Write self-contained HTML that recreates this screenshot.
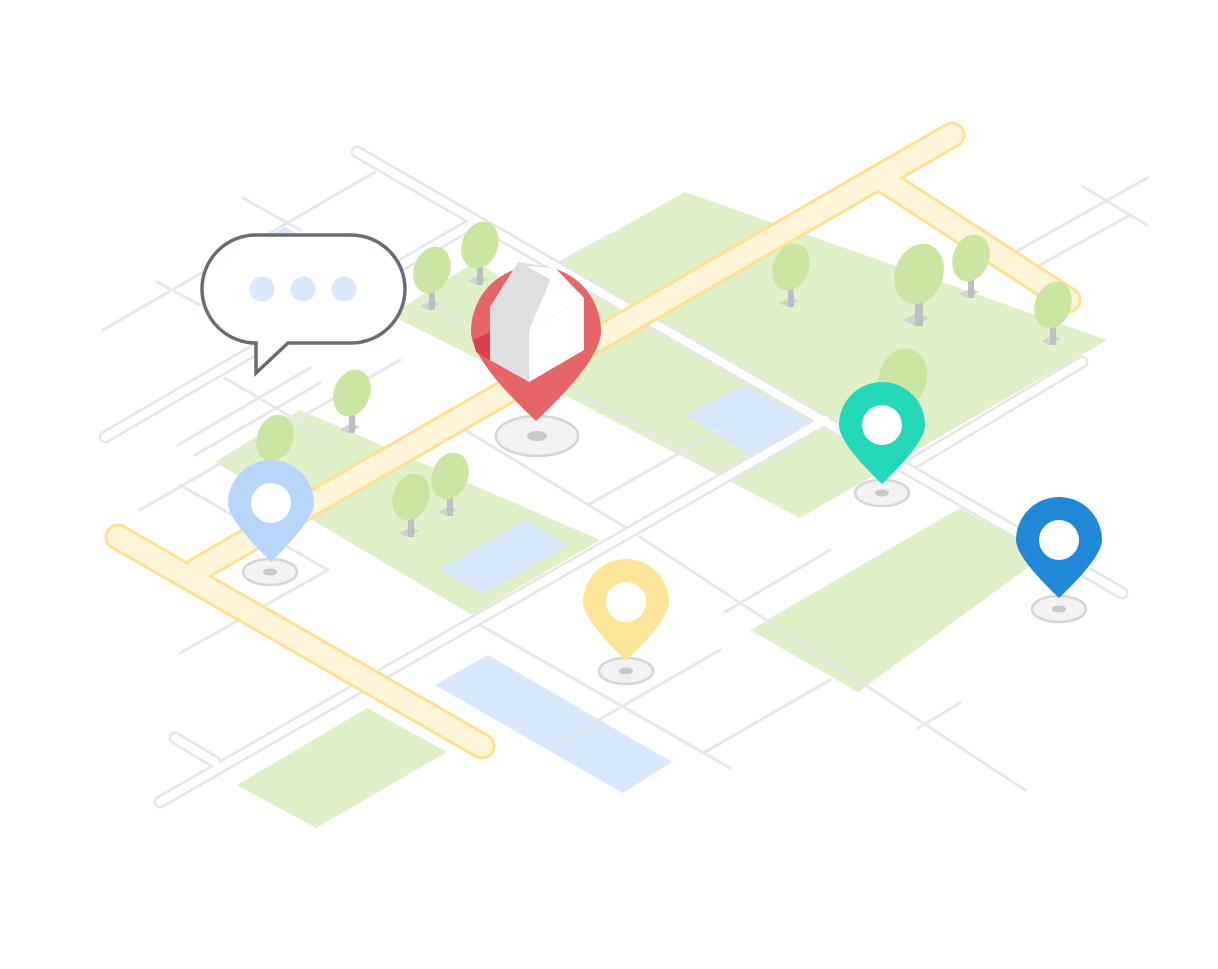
<!DOCTYPE html>
<html><head><meta charset="utf-8"><style>html,body{margin:0;padding:0;background:#fff}svg{display:block}</style></head>
<body>
<svg width="1218" height="969" viewBox="0 0 1218 969" xmlns="http://www.w3.org/2000/svg">
<rect width="1218" height="969" fill="#fff"/>
<!-- green parcels -->
<g fill="#e0f0c8">
<polygon points="560,262 685,192 1107,340 800,518 440,330"/>
<polygon points="215,462 300,410 600,540 472,615"/>
<polygon points="237,785 367,708 447,752 316,828"/>
<polygon points="750,630 960,508 1045,555 858,692"/>
<polygon points="390,315 475,262 560,310 480,360"/>
</g>
<!-- blue -->
<g fill="#d9e8fc">
<polygon points="440,570 525,520 568,545 483,594"/>
<polygon points="435,685 488,655 672,762 623,793"/>
<polygon points="685,415 745,385 812,423 750,455"/>
<polygon points="262,240 285,227 305,238 282,251"/>
</g>
<!-- single lines -->
<g stroke="#e8e8e8" stroke-width="3" fill="none" stroke-linecap="round">
<path d="M103,330 L375,172"/>
<path d="M243,198 L300,230"/>
<path d="M157,282 L200,305"/>
<path d="M1082,186 L1147,225 M1147,178 L1010,255 M1130,215 L1040,265"/>
<path d="M140,510 L400,360"/>
<path d="M180,485 L328,570 L180,653"/>
<path d="M178,445 L310,368 M195,455 L320,383"/>
<path d="M225,378 L330,440"/>
<path d="M465,430 L625,527 M588,505 L720,430"/>
<path d="M480,625 L730,768"/>
<path d="M640,537 L1025,790"/>
<path d="M705,752 L830,680 M918,728 L960,703"/>
<path d="M725,612 L830,550"/>
<path d="M555,745 L720,650"/>
<path d="M420,300 L740,485"/>
<path d="M560,262 L610,235"/>
</g>
<!-- double roads -->
<g fill="none" stroke-linecap="round" stroke-linejoin="round">
<g stroke="#e6e6e6" stroke-width="13">
<path d="M357,152 L1122,593"/>
<path d="M160,802 L825,420"/>
<path d="M1082,362 L915,462"/>
<path d="M105,437 L470,225"/>
<path d="M175,738 L215,762"/>
</g>
<g stroke="#fff" stroke-width="8">
<path d="M357,152 L1122,593"/>
<path d="M160,802 L825,420"/>
<path d="M1082,362 L915,462"/>
<path d="M105,437 L470,225"/>
<path d="M175,738 L215,762"/>
</g>
</g>
<!-- yellow road -->
<g fill="none" stroke-linecap="round" stroke-linejoin="round">
<g stroke="#fde293" stroke-width="27">
<path d="M118,537 L482,746"/>
<path d="M197,570 L952,135"/>
<path d="M880,178 L1068,300"/>
</g>
<g stroke="#fef4d7" stroke-width="21">
<path d="M118,537 L482,746"/>
<path d="M197,570 L952,135"/>
<path d="M880,178 L1068,300"/>
</g>
</g>
<!-- trees -->
<g>
<g transform="translate(432,270)"><polygon points="-12,36 0,30 8,34 -4,40" fill="#d0d4cf"/><rect x="-3" y="10" width="6" height="30" fill="#bdbfc2"/><ellipse rx="18" ry="24" transform="rotate(20)" fill="#cbe5a2"/></g>
<g transform="translate(480,245)"><polygon points="-12,36 0,30 8,34 -4,40" fill="#d0d4cf"/><rect x="-3" y="10" width="6" height="30" fill="#bdbfc2"/><ellipse rx="18" ry="24" transform="rotate(20)" fill="#cbe5a2"/></g>
<g transform="translate(352,393)"><polygon points="-12,36 0,30 8,34 -4,40" fill="#d0d4cf"/><rect x="-3" y="10" width="6" height="30" fill="#bdbfc2"/><ellipse rx="18" ry="24" transform="rotate(20)" fill="#cbe5a2"/></g>
<g transform="translate(275,438)"><ellipse rx="18" ry="24" transform="rotate(20)" fill="#cbe5a2"/></g>
<g transform="translate(411,497)"><polygon points="-12,36 0,30 8,34 -4,40" fill="#d0d4cf"/><rect x="-3" y="10" width="6" height="30" fill="#bdbfc2"/><ellipse rx="18" ry="24" transform="rotate(20)" fill="#cbe5a2"/></g>
<g transform="translate(450,476)"><polygon points="-12,36 0,30 8,34 -4,40" fill="#d0d4cf"/><rect x="-3" y="10" width="6" height="30" fill="#bdbfc2"/><ellipse rx="18" ry="24" transform="rotate(20)" fill="#cbe5a2"/></g>
<g transform="translate(791,267)"><polygon points="-12,36 0,30 8,34 -4,40" fill="#d0d4cf"/><rect x="-3" y="10" width="6" height="30" fill="#bdbfc2"/><ellipse rx="18" ry="24" transform="rotate(20)" fill="#cbe5a2"/></g>
<g transform="translate(919,274)"><polygon points="-16,46 0,38 10,44 -4,52" fill="#d0d4cf"/><rect x="-4" y="14" width="8" height="38" fill="#bdbfc2"/><ellipse rx="24" ry="31" transform="rotate(20)" fill="#cbe5a2"/></g>
<g transform="translate(971,258)"><polygon points="-12,36 0,30 8,34 -4,40" fill="#d0d4cf"/><rect x="-3" y="10" width="6" height="30" fill="#bdbfc2"/><ellipse rx="18" ry="24" transform="rotate(20)" fill="#cbe5a2"/></g>
<g transform="translate(1053,305)"><polygon points="-12,36 0,30 8,34 -4,40" fill="#d0d4cf"/><rect x="-3" y="10" width="6" height="30" fill="#bdbfc2"/><ellipse rx="18" ry="24" transform="rotate(20)" fill="#cbe5a2"/></g>
<g transform="translate(903,378)"><polygon points="-16,46 0,38 10,44 -4,52" fill="#d0d4cf"/><rect x="-4" y="14" width="8" height="38" fill="#bdbfc2"/><ellipse rx="24" ry="30" transform="rotate(15)" fill="#cbe5a2"/></g>
</g>
<!-- pin bases -->
<g stroke="#d6d6d6" stroke-width="2.5" fill="#f1f2f1">
<ellipse cx="270" cy="572" rx="27" ry="13"/>
<ellipse cx="626" cy="671" rx="27" ry="13"/>
<ellipse cx="882" cy="493" rx="27" ry="13"/>
<ellipse cx="1059" cy="609" rx="27" ry="13"/>
<ellipse cx="537" cy="436" rx="41" ry="20"/>
</g>
<g fill="#c9c9c9">
<ellipse cx="270" cy="572" rx="7" ry="3.5"/>
<ellipse cx="626" cy="671" rx="7" ry="3.5"/>
<ellipse cx="882" cy="493" rx="7" ry="3.5"/>
<ellipse cx="1059" cy="609" rx="7" ry="3.5"/>
<ellipse cx="537" cy="436" rx="10" ry="5"/>
</g>
<!-- pins -->
<path d="M271,562 Q228,520 228,503 A43,43 0 1 1 314,503 Q314,520 271,562 Z" fill="#b8d6fc"/>
<circle cx="271" cy="503" r="20" fill="#fff"/>
<path d="M626,661 Q583,620 583,602 A43,43 0 1 1 669,602 Q669,620 626,661 Z" fill="#fde69a"/>
<circle cx="626" cy="602" r="20" fill="#fff"/>
<path d="M882,484 Q839,443 839,425 A43,43 0 1 1 925,425 Q925,443 882,484 Z" fill="#22d8b8"/>
<circle cx="882" cy="425" r="20" fill="#fff"/>
<path d="M1059,598 Q1016,557 1016,540 A43,43 0 1 1 1102,540 Q1102,557 1059,598 Z" fill="#2188d8"/>
<circle cx="1059" cy="540" r="20" fill="#fff"/>
<path d="M536,421 Q471,360 471,331 A65,65 0 1 1 601,331 Q601,360 536,421 Z" fill="#e66569"/>
<polygon points="473,340 490,332 490,360 476,352" fill="#d9404a"/>
<!-- house -->
<polygon points="490,307 529,330 529,382 490,360" fill="#dedfe1"/>
<polygon points="529,330 584,298 584,350 529,382" fill="#fff"/>
<polygon points="490,307 518,262 555,268 529,330" fill="#dedfe1"/>
<polygon points="529,330 555,268 584,298" fill="#fff"/>
<polygon points="526,266 584,298 555,268" fill="#fff"/>
<!-- speech bubble -->
<path d="M256,343 L256,373 L288,343 L351,343 A54,54 0 0 0 351,235 L256,235 A54,54 0 0 0 256,343 Z" fill="#fff" stroke="#676d72" stroke-width="3.5" stroke-linejoin="miter"/>
<circle cx="262" cy="289" r="12.5" fill="#dbe8fb"/>
<circle cx="303" cy="289" r="12.5" fill="#dbe8fb"/>
<circle cx="344" cy="289" r="12.5" fill="#dbe8fb"/>
</svg>
</body></html>
